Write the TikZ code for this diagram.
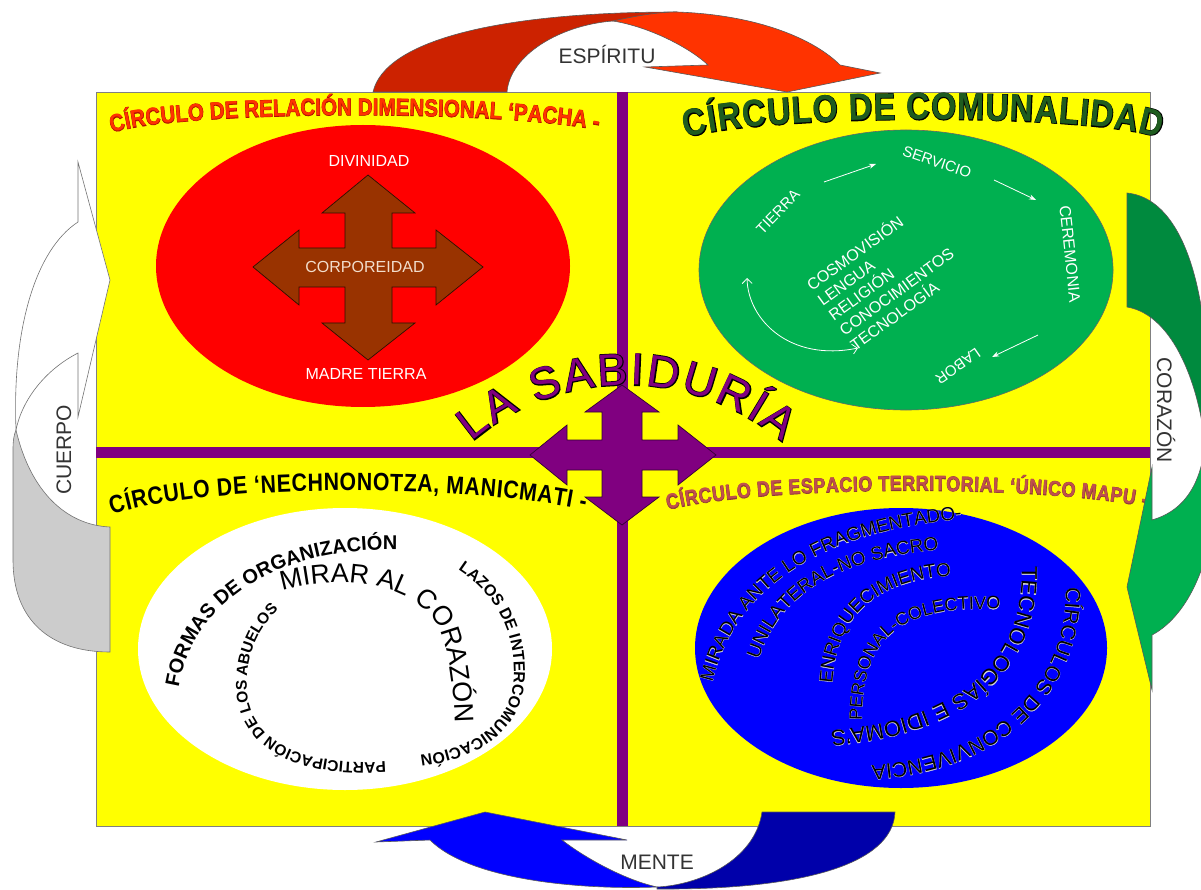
\documentclass[tikz,border=0pt]{standalone}
\usepackage{fontspec}
\setmainfont{Liberation Sans}
\newfontfamily\tB{Liberation Sans Bold}[FakeStretch=0.85]
\newfontfamily\tBo{Liberation Sans Bold}[FakeStretch=0.85,FakeBold=3]
\newfontfamily\tBB{Liberation Sans Bold}
\newfontfamily\tRo{Liberation Sans}[FakeBold=4]
\newfontfamily\tRh{Liberation Sans}[FakeBold=1.6]
\usetikzlibrary{decorations.text,shapes.geometric,arrows.meta}
\definecolor{yel}{HTML}{FFFF00}
\definecolor{pur}{HTML}{800080}
\definecolor{redE}{HTML}{FF0000}
\definecolor{grnE}{HTML}{00B050}
\definecolor{bluE}{HTML}{0000FF}
\definecolor{brn}{HTML}{993300}
\definecolor{espD}{HTML}{CC2200}
\definecolor{espB}{HTML}{FF3300}
\definecolor{menB}{HTML}{0000FF}
\definecolor{menD}{HTML}{0000AA}
\definecolor{corD}{HTML}{008A3E}
\definecolor{corB}{HTML}{00B050}
\definecolor{cueG}{HTML}{CCCCCC}
\definecolor{tone}{HTML}{FF3300}
\definecolor{toneo}{HTML}{B01000}
\definecolor{ttwo}{HTML}{1F5C1F}
\definecolor{tfour}{HTML}{C0504D}
\definecolor{tfouro}{HTML}{8E3A36}
\definecolor{lbl}{HTML}{333333}
\definecolor{corp}{HTML}{F2DDCC}
\definecolor{halo}{HTML}{D8D8D8}
\newcommand\halotext[3]{%
  \path[ccen={halo}{|\tRh\fontsize{#1}{#1}\selectfont|#2}] #3;
  \path[ccen={black}{|\rmfamily\fontsize{#1}{#1}\selectfont|#2}] #3;
}
\begin{document}
\begin{tikzpicture}[x=1pt,y=-1pt,
  lab/.style={font=\fontsize{21}{21}\selectfont, text=lbl, inner sep=0pt},
  wt/.style={font=\fontsize{16}{16}\selectfont, text=white, inner sep=0pt},
  gt/.style={font=\fontsize{15}{15}\selectfont, text=white, inner sep=0pt},
  garrow/.style={white, line width=0.8pt, -{Stealth[length=7pt,width=5pt]}},
  ccen/.style 2 args={decorate,decoration={text along path,text align=center,text color=#1,text={#2}}},
  cfit/.style 2 args={decorate,decoration={text along path,text align=fit to path,text color=#1,text={#2}}},
  rim/.style={draw=black!65, line width=0.6pt},
]
\useasboundingbox (0,0) rectangle (1201,890);
\clip (0,0) rectangle (1201,890);

% board
\node[draw=black!50, fill=yel, minimum width=1054pt, minimum height=734pt, inner sep=0pt] (board) at (623,459) {};
\draw[pur, line width=11pt] (622,92) -- (622,826);
\draw[pur, line width=11pt] (96,452) -- (1150,452);

% ellipses
\node[ellipse, fill=redE, minimum width=414pt, minimum height=282pt, inner sep=0pt] (redell) at (363,266) {};
\node[ellipse, fill=grnE, draw=black!60, line width=0.6pt, minimum width=414pt, minimum height=280pt, inner sep=0pt] (grnell) at (906,270) {};
\node[ellipse, fill=white, minimum width=414pt, minimum height=282pt, inner sep=0pt] (whtell) at (345,649) {};
\node[ellipse, fill=bluE, minimum width=412pt, minimum height=280pt, inner sep=0pt] (bluell) at (901,648) {};

% brown cross
\filldraw[fill=brn, draw=black!70!brn, line width=0.7pt]
 (368,175) -- (415,213) -- (392,213) -- (392,248) -- (436,248) -- (436,230) -- (483,267) -- (436,305) -- (436,287) -- (392,287) -- (392,323) -- (415,323) -- (368,360) -- (322,323) -- (345,323) -- (345,287) -- (299,287) -- (299,305) -- (253,267) -- (299,230) -- (299,248) -- (345,248) -- (345,213) -- (322,213) -- cycle;
\node[wt] (divi) at (369,161) {DIVINIDAD};
\node[wt, text=corp] (corpo) at (365,267) {CORPOREIDAD};
\node[wt] (madre) at (366,374) {MADRE TIERRA};

% green ellipse content
\node[gt, rotate=-19] (serv) at (937,162) {SERVICIO};
\node[gt, rotate=46] (tier) at (778,212) {TIERRA};
\node[gt, rotate=-84, font=\fontsize{16}{16}\selectfont] (cere) at (1070,254) {CEREMONIA};
\node[gt, rotate=215] (labo) at (958,366) {LABOR};
\node[gt, rotate=36, align=left, font=\fontsize{16}{18.5}\selectfont] (core) at (885,276) {COSMOVISIÓN\\LENGUA\\RELIGIÓN\\CONOCIMIENTOS\\TECNOLOGÍA};
\coordinate (a1s) at (824,182); \coordinate (a1e) at (876,164);
\coordinate (a2s) at (994,180); \coordinate (a2e) at (1036,200);
\coordinate (a3s) at (1038,335); \coordinate (a3e) at (992,357);
\coordinate (a4s) at (858,348); \coordinate (a4e) at (747,278);
\draw[garrow] (a1s) -- (a1e);
\draw[garrow] (a2s) -- (a2e);
\draw[garrow] (a3s) -- (a3e);
\draw[white, line width=0.8pt, {Straight Barb[length=5pt]}-{Straight Barb[length=5pt]}] (a4s) .. controls (790,362) and (748,320) .. (a4e);

% purple cross
\filldraw[fill=pur, draw=black!60!pur, line width=0.7pt]
 (622,385) -- (659,412) -- (642,412) -- (642,440) -- (678,440) -- (678,425) -- (716,455) -- (678,485) -- (678,470) -- (642,470) -- (642,497) -- (659,497) -- (622,525) -- (585,497) -- (602,497) -- (602,470) -- (567,470) -- (567,485) -- (530,455) -- (567,425) -- (567,440) -- (602,440) -- (602,412) -- (585,412) -- cycle;

% LA SABIDURIA
\path[cfit={black}{|\tRo\fontsize{45}{45}\selectfont|LA SABIDURÍA}] (472,442) arc[start angle=-130.4, end angle=-49.6, radius=239];
\path[cfit={pur}{|\rmfamily\fontsize{45}{45}\selectfont|LA SABIDURÍA}] (472,442) arc[start angle=-130.4, end angle=-49.6, radius=239];

% titles
\path[cfit={toneo}{|\tBo\fontsize{24}{24}\selectfont|CÍRCULO DE RELACIÓN DIMENSIONAL ‘PACHA -}] (112,133) .. controls (170,112) and (480,108) .. (598,130);
\path[cfit={tone}{|\tB\fontsize{24}{24}\selectfont|CÍRCULO DE RELACIÓN DIMENSIONAL ‘PACHA -}] (112,133) .. controls (170,112) and (480,108) .. (598,130);
\path[cfit={black}{|\tBo\fontsize{38}{38}\selectfont|CÍRCULO DE COMUNALIDAD}] (686,138) .. controls (760,115) and (1080,112) .. (1160,138);
\path[cfit={ttwo}{|\tB\fontsize{38}{38}\selectfont|CÍRCULO DE COMUNALIDAD}] (686,138) .. controls (760,115) and (1080,112) .. (1160,138);
\path[cfit={black}{|\tB\fontsize{25}{25}\selectfont|CÍRCULO DE ‘NECHNONOTZA, MANICMATI -}] (112,515) .. controls (200,485) and (450,482) .. (585,510);
\path[cfit={tfouro}{|\tBo\fontsize{21}{21}\selectfont|CÍRCULO DE ESPACIO TERRITORIAL ‘ÚNICO MAPU -}] (668,510) .. controls (760,486) and (1030,484) .. (1146,507);
\path[cfit={tfour}{|\tB\fontsize{21}{21}\selectfont|CÍRCULO DE ESPACIO TERRITORIAL ‘ÚNICO MAPU -}] (668,510) .. controls (760,486) and (1030,484) .. (1146,507);

% white ellipse texts
\path[ccen={black}{|\tBB\fontsize{20}{20}\selectfont|FORMAS DE ORGANIZACIÓN}] (178,692) .. controls (188,610) and (270,545) .. (402,550);
\path[ccen={black}{|\rmfamily\fontsize{27}{27}\selectfont|MIRAR AL CORAZÓN}] (266,596) .. controls (340,568) and (420,585) .. (440,630) .. controls (452,660) and (455,700) .. (455,740);
\path[ccen={black}{|\tBB\fontsize{15.5}{15.5}\selectfont|PARTICIPACIÓN DE LOS ABUELOS}] (402,760) .. controls (320,770) and (250,750) .. (247,690) .. controls (245,650) and (262,618) .. (292,600);
\path[ccen={black}{|\tBB\fontsize{16}{16}\selectfont|LAZOS DE INTERCOMUNICACIÓN}] (445,562) .. controls (490,585) and (515,625) .. (514,675) .. controls (513,725) and (470,753) .. (405,757);

% blue ellipse texts
\halotext{19}{MIRADA ANTE LO FRAGMENTADO-}{(708,712) .. controls (716,612) and (792,526) .. (992,517)}
\halotext{19}{UNILATERAL-NO SACRO}{(753,682) .. controls (768,602) and (826,555) .. (962,548)}
\halotext{19}{ENRIQUECIMIENTO}{(832,696) .. controls (832,626) and (864,578) .. (964,575)}
\halotext{18}{PERSONAL-COLECTIVO}{(862,728) .. controls (860,642) and (894,602) .. (1008,610)}
\halotext{22}{TECNOLOGÍAS E IDIOMA'S}{(1020,546) .. controls (1032,640) and (985,725) .. (810,732)}
\halotext{21}{CÍRCULOS DE CONVIVENCIA}{(1064,568) .. controls (1078,670) and (1005,765) .. (852,766)}

% ESPIRITU arrow
\filldraw[fill=espD, rim] (373,92) .. controls (385,40) and (500,12) .. (677,12) -- (613,21) .. controls (560,25) and (510,55) .. (507,92) -- cycle;
\filldraw[fill=espB, rim] (613,21) .. controls (640,15) and (660,12) .. (677,12) .. controls (760,15) and (815,40) .. (840,65) -- (880,73) -- (787,92) -- (645,67) -- (708,65) .. controls (690,48) and (650,27) .. (613,21) -- cycle;
\node[lab] (esp) at (607,55) {ESPÍRITU};

% MENTE arrow
\filldraw[fill=menB, rim] (485,812) -- (627,840) -- (562,840) .. controls (585,858) and (625,880) .. (657,887) .. controls (580,890) and (470,880) .. (430,840) -- (376,842) -- cycle;
\filldraw[fill=menD, rim] (657,887) .. controls (700,885) and (755,860) .. (762,812) -- (895,812) .. controls (893,865) and (800,890) .. (657,889) -- cycle;
\node[lab] (men) at (657,862) {MENTE};

% CUERPO arrow
\filldraw[fill=white, draw=black!55, line width=0.6pt] (78,162) -- (110,280) -- (78,417) -- (78,353) .. controls (45,370) and (22,400) .. (16,430) .. controls (12,330) and (35,250) .. (78,222) -- cycle;
\filldraw[fill=cueG, draw=black!55, line width=0.6pt] (16,430) .. controls (30,490) and (65,525) .. (110,527) -- (110,652) .. controls (50,652) and (13,620) .. (13,560) -- (13,450) .. controls (13,440) and (14,435) .. (16,430) -- cycle;
\node[lab, rotate=90] (cue) at (64,450) {CUERPO};

% CORAZON arrow
\filldraw[fill=corD, rim] (1127,193) .. controls (1195,200) and (1215,330) .. (1205,445) .. controls (1200,390) and (1175,315) .. (1127,307) -- cycle;
\filldraw[fill=corB, rim] (1205,445) .. controls (1200,490) and (1180,512) .. (1152,520) -- (1152,467) -- (1127,587) -- (1152,690) -- (1152,635) .. controls (1180,620) and (1200,585) .. (1210,540) .. controls (1215,510) and (1212,470) .. (1205,445) -- cycle;
\node[lab, rotate=-90] (cor) at (1166,410) {CORAZÓN};
\end{tikzpicture}
\end{document}
